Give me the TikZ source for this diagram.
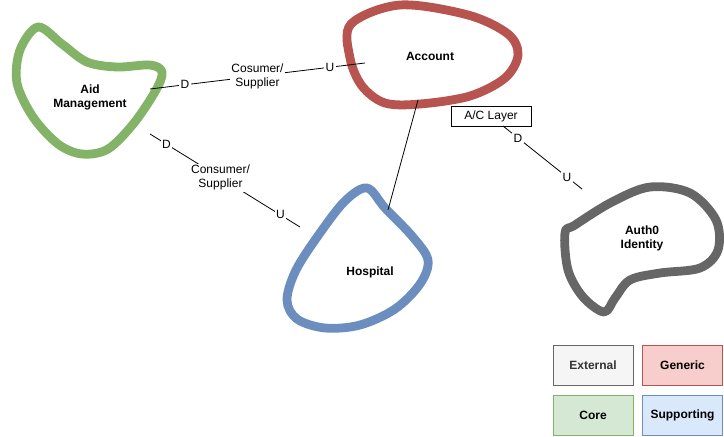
\documentclass[tikz,border=0pt]{standalone}
\usepackage{fontspec}
\setmainfont{Liberation Sans}
\begin{document}
\begin{tikzpicture}[x=0.75pt,y=-0.75pt,
  blob/.style={line width=6.6pt,line join=round},
  lbl/.style={font=\fontsize{9}{10.5}\selectfont\bfseries,align=center},
  conn/.style={line width=0.6pt,black},
  elab/.style={fill=white,inner sep=1pt,font=\fontsize{9}{10.5}\selectfont,align=center},
  legend/.style={draw,line width=0.75pt,minimum width=60pt,minimum height=30pt,inner sep=0pt,font=\fontsize{9}{10.5}\selectfont\bfseries}]
\useasboundingbox (0,0) rectangle (724,436);
\definecolor{cgreen}{HTML}{82B366}
\definecolor{cred}{HTML}{B85450}
\definecolor{cblue}{HTML}{6C8EBF}
\definecolor{cgray}{HTML}{666666}
% blobs
\draw[blob,cgreen] plot[smooth cycle,tension=0.55] coordinates {(38,27) (20,50) (17,83) (33,117) (58,144) (82,154) (108,149) (134,123) (156,90) (162,72) (150,65) (117,67) (87,62) (62,44)};
\draw[blob,cred] plot[smooth cycle,tension=0.55] coordinates {(400,5) (468,15) (508,34) (518,55) (505,78) (470,96) (420,104) (385,103) (362,86) (350,58) (351,24)};
\draw[blob,cblue] plot[smooth cycle,tension=0.55] coordinates {(367,188) (385,208) (412,236) (428,260) (420,284) (395,309) (360,325) (325,328) (297,319) (287,300) (296,270) (320,233) (345,201)};
\draw[blob,cgray] plot[smooth cycle,tension=0.55] coordinates {(565,233) (568,270) (583,297) (604,312) (615,298) (630,280) (660,273) (700,268) (718,250) (716,220) (690,193) (650,187) (612,202) (575,225)};
% labels
\node[lbl] (aid) at (90,97) {Aid\\Management};
\node[lbl] (acc) at (430,56) {Account};
\node[lbl] (hos) at (370,272) {Hospital};
\node[lbl] (auth) at (642,238) {Auth0\\Identity};
% connector end points
\coordinate (a1) at (150,89);
\coordinate (c1) at (365,63);
\coordinate (a2) at (150,134);
\coordinate (h2) at (300,227);
\coordinate (c3) at (418,100);
\coordinate (h3) at (388,210);
\coordinate (acb) at (503,126);
\coordinate (x4) at (582,189);
\node[draw,line width=0.6pt,fill=white,minimum width=60pt,minimum height=15pt,inner sep=0pt,font=\fontsize{9}{10.5}\selectfont] (acl) at (491,116) {A/C Layer};
% connectors
\draw[conn] (a1) -- (c1)
  node[elab,pos=0.163] {D}
  node[elab,pos=0.5] {Cosumer/\\Supplier}
  node[elab,pos=0.837] {U};
\draw[conn] (a2) -- (h2)
  node[elab,pos=0.11] {D}
  node[elab,pos=0.47] {Consumer/\\Supplier}
  node[elab,pos=0.87] {U};
\draw[conn] (c3) -- (h3);
\draw[conn] (acb) -- (x4)
  node[elab,pos=0.19] {D}
  node[elab,pos=0.81] {U};
% legend
\node[legend,draw=cgray,fill={rgb,255:red,245;green,245;blue,245},text={rgb,255:red,51;green,51;blue,51}] (ext) at (593,365) {External};
\node[legend,draw=cred,fill={rgb,255:red,248;green,206;blue,204}] (gen) at (682.5,365) {Generic};
\node[legend,draw=cgreen,fill={rgb,255:red,213;green,232;blue,212}] (core) at (593,415) {Core};
\node[legend,draw=cblue,fill={rgb,255:red,218;green,232;blue,252}] (sup) at (682.5,415) {Supporting};
\end{tikzpicture}
\end{document}
